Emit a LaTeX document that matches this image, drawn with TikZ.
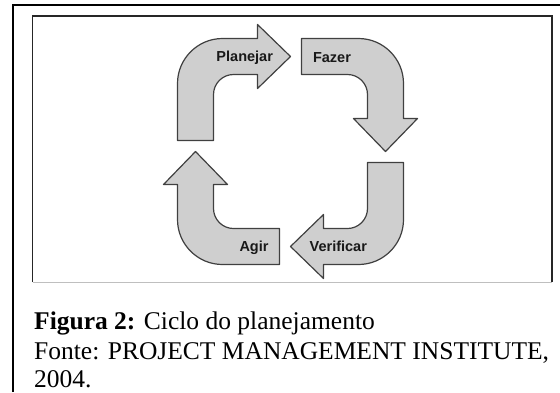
\documentclass[tikz,border=0pt]{standalone}
\usepackage{fontspec}
\setmainfont{Liberation Serif}
\newfontfamily\lblfont{Liberation Sans}
\usepackage{tikz}

\tikzset{
  cycarrow/.style={fill=black!19, draw=black!75, line width=1.2pt, line join=round},
  lbl/.style={font=\lblfont\bfseries\fontsize{14.5}{15}\selectfont, inner sep=0pt, text=black!90},
  capt/.style={font=\fontsize{25.5}{28}\selectfont, anchor=base west, inner sep=0pt},
  frameline/.style={line width=2pt, black}
}

\begin{document}
\begin{tikzpicture}[x=1pt,y=-1pt]

\useasboundingbox (0,0) rectangle (560,392);

\coordinate (C) at (290.5,151.5);

% frames
\draw[frameline] (12.5,392) -- (12.5,4.5) -- (560,4.5);
\draw[line width=1.6pt, black!85] (32.5,282) -- (32.5,16) -- (552,16) -- (552,282);
\draw[line width=1pt, black!25] (32.5,282) -- (552,282);

% the four bent arrows
\foreach \ang in {0,-90,-180,-270}
    \draw[cycarrow, shift={(C)}, rotate=\ang]
        (-77,-11) -- (-113,-11) -- (-113,-68)
        .. controls (-113,-92.8) and (-92.8,-113) .. (-68,-113)
        -- (-33,-113) -- (-33,-127) -- (0,-95) -- (-33,-63) -- (-33,-77)
        -- (-57,-77) .. controls (-68,-77) and (-77,-68) .. (-77,-57)
        -- cycle;

\node[lbl] (planejar) at (244.7,57.7) {Planejar};
\node[lbl] (fazer) at (332,58) {Fazer};
\node[lbl] (verificar) at (338.3,246.7) {Verificar};
\node[lbl] (agir) at (254,247.7) {Agir};

% caption
\node[capt] (titulo) at (34,329) {\textbf{Figura 2:} Ciclo do planejamento};
\node[capt] (fonte) at (34,359) {Fonte: PROJECT MANAGEMENT INSTITUTE,};
\node[capt] (ano) at (34,387) {2004.};

\end{tikzpicture}
\end{document}
